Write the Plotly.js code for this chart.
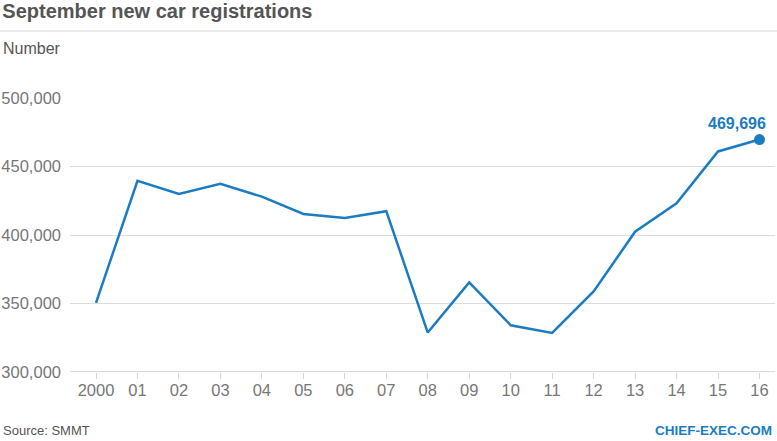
<!DOCTYPE html>
<html>
<head>
<meta charset="utf-8">
<script src="https://cdn.plot.ly/plotly-3.0.1.min.js"></script>
<style>html,body{margin:0;padding:0;background:#fff;}#chart{width:777px;height:441px;}</style>
</head>
<body>
<div id="chart"></div>
<script>
var years = [2000,2001,2002,2003,2004,2005,2006,2007,2008,2009,2010,2011,2012,2013,2014,2015,2016];
var tickLabels = ["2000","01","02","03","04","05","06","07","08","09","10","11","12","13","14","15","16"];
var registrations = [350500,439500,430000,437300,428000,415400,412500,417400,328800,365400,334100,328500,358800,402400,423200,461000,469696];
var yTicks = [300000,350000,400000,450000,500000];
var yTickLabels = ["300,000","350,000","400,000","450,000","500,000"];

var blue = "#1b7cc2";
var lastIdx = registrations.length - 1;

var traces = [
  {x: years, y: registrations, type: "scatter", mode: "lines",
   line: {color: blue, width: 2.5}, hoverinfo: "x+y"},
  {x: [years[lastIdx]], y: [registrations[lastIdx]], type: "scatter", mode: "markers",
   marker: {color: blue, size: 11}, cliponaxis: false, hoverinfo: "skip"}
];

var layout = {
  width: 777, height: 441,
  margin: {l: 70, r: 2, t: 98, b: 69},
  paper_bgcolor: "#fff", plot_bgcolor: "#fff",
  showlegend: false,
  font: {family: "Liberation Sans, Arial, sans-serif", color: "#777", size: 16},
  title: {text: "<b>September new car registrations</b>", xref: "container", yref: "container",
          x: 0.003, xanchor: "left", y: 0.974, yanchor: "middle",
          font: {family: "Liberation Sans, Arial, sans-serif", size: 20, color: "#555"}},
  xaxis: {range: [1999.373, 2016.374], tickvals: years, ticktext: tickLabels,
          showgrid: false, zeroline: false, showline: false,
          ticks: "outside", ticklen: 6, tickcolor: "#d6d6d6", tickwidth: 1,
          ticklabelstandoff: -3,
          tickfont: {size: 16.5, color: "#777"}, fixedrange: true},
  yaxis: {range: [300000, 500000], tickvals: yTicks, ticktext: yTickLabels,
          showgrid: true, gridcolor: "#dcdcdc", gridwidth: 1, zeroline: false, showline: false,
          ticks: "", ticklabelstandoff: 8,
          tickfont: {size: 16.5, color: "#777"}, fixedrange: true},
  shapes: [
    {type: "line", xref: "paper", yref: "paper", x0: -0.0993, x1: 1.003, y0: 1.2445, y1: 1.2445,
     line: {color: "#ebebeb", width: 2}},
    {type: "line", xref: "paper", yref: "y", x0: 0, x1: 1, y0: 300000, y1: 300000,
     line: {color: "#dcdcdc", width: 2}}
  ],
  annotations: [
    {text: "Number", xref: "paper", yref: "paper", x: -0.0975, y: 1.18, xanchor: "left", yanchor: "middle",
     showarrow: false, font: {size: 16, color: "#555"}},
    {text: "<b>" + registrations[lastIdx].toLocaleString("en-US") + "</b>", x: years[lastIdx], y: registrations[lastIdx],
     xref: "x", yref: "y", xanchor: "right", yanchor: "bottom", xshift: 9, yshift: 6,
     showarrow: false, font: {size: 16, color: blue}},
    {text: "Source: SMMT", xref: "paper", yref: "paper", x: -0.0975, y: -0.215, xanchor: "left", yanchor: "middle",
     showarrow: false, font: {size: 13, color: "#555"}},
    {text: "<b>CHIEF-EXEC.COM</b>", xref: "paper", yref: "paper", x: 0.9985, y: -0.215, xanchor: "right", yanchor: "middle",
     showarrow: false, font: {size: 13.5, color: blue}}
  ]
};

Plotly.newPlot("chart", traces, layout, {displayModeBar: false, staticPlot: true});
</script>
</body>
</html>
